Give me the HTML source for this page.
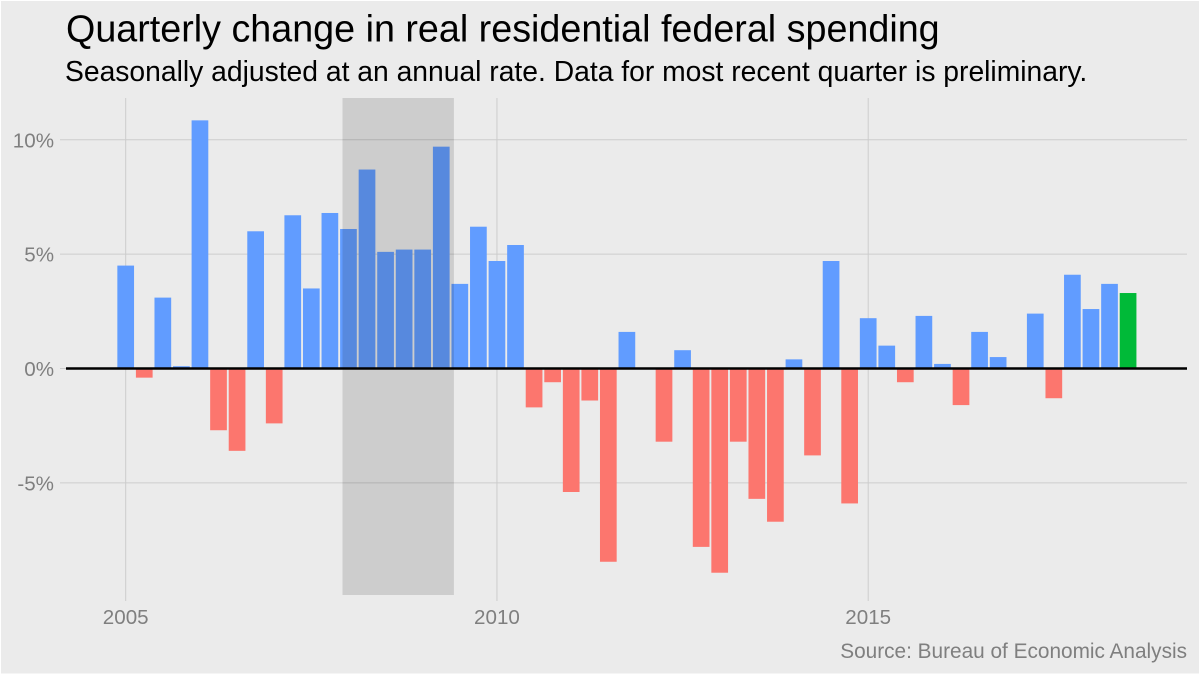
<!DOCTYPE html>
<html>
<head>
<meta charset="utf-8">
<style>
html,body{margin:0;padding:0;background:#fff;width:1200px;height:676px;overflow:hidden}
svg{display:block;font-family:"Liberation Sans",Arial,sans-serif}
</style>
</head>
<body>
<svg id="chart" width="1200" height="676" viewBox="0 0 1200 676" xmlns="http://www.w3.org/2000/svg">
  <rect x="1" y="1" width="1198" height="672.5" fill="#EBEBEB"/>
  <g id="grid"></g>
  <g id="bars"></g>
  <g id="recession"></g>
  <g id="axes"></g>
  <text x="66" y="41.5" font-size="37.7" fill="#000">Quarterly change in real residential federal spending</text>
  <text x="65" y="81" font-size="28.28" fill="#000">Seasonally adjusted at an annual rate. Data for most recent quarter is preliminary.</text>
  <text x="1187" y="658" font-size="20.8" fill="#7F7F7F" text-anchor="end">Source: Bureau of Economic Analysis</text>
</svg>
<script>
const startYear = 2005;
const values = [4.5,-0.4,3.1,0.1,10.85,-2.7,-3.6,6.0,-2.4,6.7,3.5,6.8,6.1,8.7,5.1,5.2,5.2,9.7,3.7,6.2,4.7,5.4,-1.7,-0.6,-5.4,-1.4,-8.45,1.6,0,-3.2,0.8,-7.8,-8.93,-3.2,-5.7,-6.7,0.4,-3.8,4.7,-5.9,2.2,1.0,-0.6,2.3,0.2,-1.6,1.6,0.5,0,2.4,-1.3,4.1,2.6,3.7,3.3];
const xTicks = [2005,2010,2015];
const yTicks = [-5,0,5,10];
const recessionYears = [2007.92,2009.42];

const NS = 'http://www.w3.org/2000/svg';
const xScale = y => 125.7 + (y - 2005) * 74.25;
const yScale = v => 368.5 - v * 22.87;
const barW = 74.25 / 4 * 0.9;
const top_ = 98, bottom_ = 601, left_ = 60, right_ = 1187;

function mk(tag, attrs, parent){
  const el = document.createElementNS(NS, tag);
  for (const k in attrs) el.setAttribute(k, attrs[k]);
  parent.appendChild(el);
  return el;
}
const grid = document.getElementById('grid');
const bars = document.getElementById('bars');
const rec = document.getElementById('recession');
const axes = document.getElementById('axes');

yTicks.forEach(t => {
  const l = mk('line', {x1:left_, x2:right_, y1:yScale(t), y2:yScale(t), stroke:'#CCCCCC', 'stroke-width':1}, grid);
  
  
  const tx = mk('text', {x:54, y:yScale(t)+7.5, 'font-size':20.6, fill:'#7F7F7F', 'text-anchor':'end'}, axes);
  tx.textContent = t + '%';
  
  
});
xTicks.forEach(t => {
  const l = mk('line', {x1:xScale(t), x2:xScale(t), y1:top_, y2:bottom_, stroke:'#CCCCCC', 'stroke-width':1}, grid);
  
  
  const tx = mk('text', {x:xScale(t), y:624, 'font-size':20.6, fill:'#7F7F7F', 'text-anchor':'middle'}, axes);
  tx.textContent = t;
  
  
});
values.forEach((v, i) => {
  if (v === 0) return;
  const cx = xScale(startYear + i / 4);
  const last = i === values.length - 1;
  const fill = last ? '#00BA38' : (v > 0 ? '#619CFF' : '#FC766E');
  const b = mk('rect', {x:cx - barW/2, y:Math.min(yScale(v), yScale(0)), width:barW, height:Math.abs(yScale(v) - yScale(0)), fill:fill}, bars);
  
  
});
const band = mk('rect', {x:xScale(recessionYears[0]), y:98, width:xScale(recessionYears[1]) - xScale(recessionYears[0]), height:497, fill:'#222', 'fill-opacity':0.15}, rec);


const zero = mk('line', {x1:66, x2:right_, y1:yScale(0), y2:yScale(0), stroke:'#000', 'stroke-width':2.4}, rec);


</script>
</body>
</html>
